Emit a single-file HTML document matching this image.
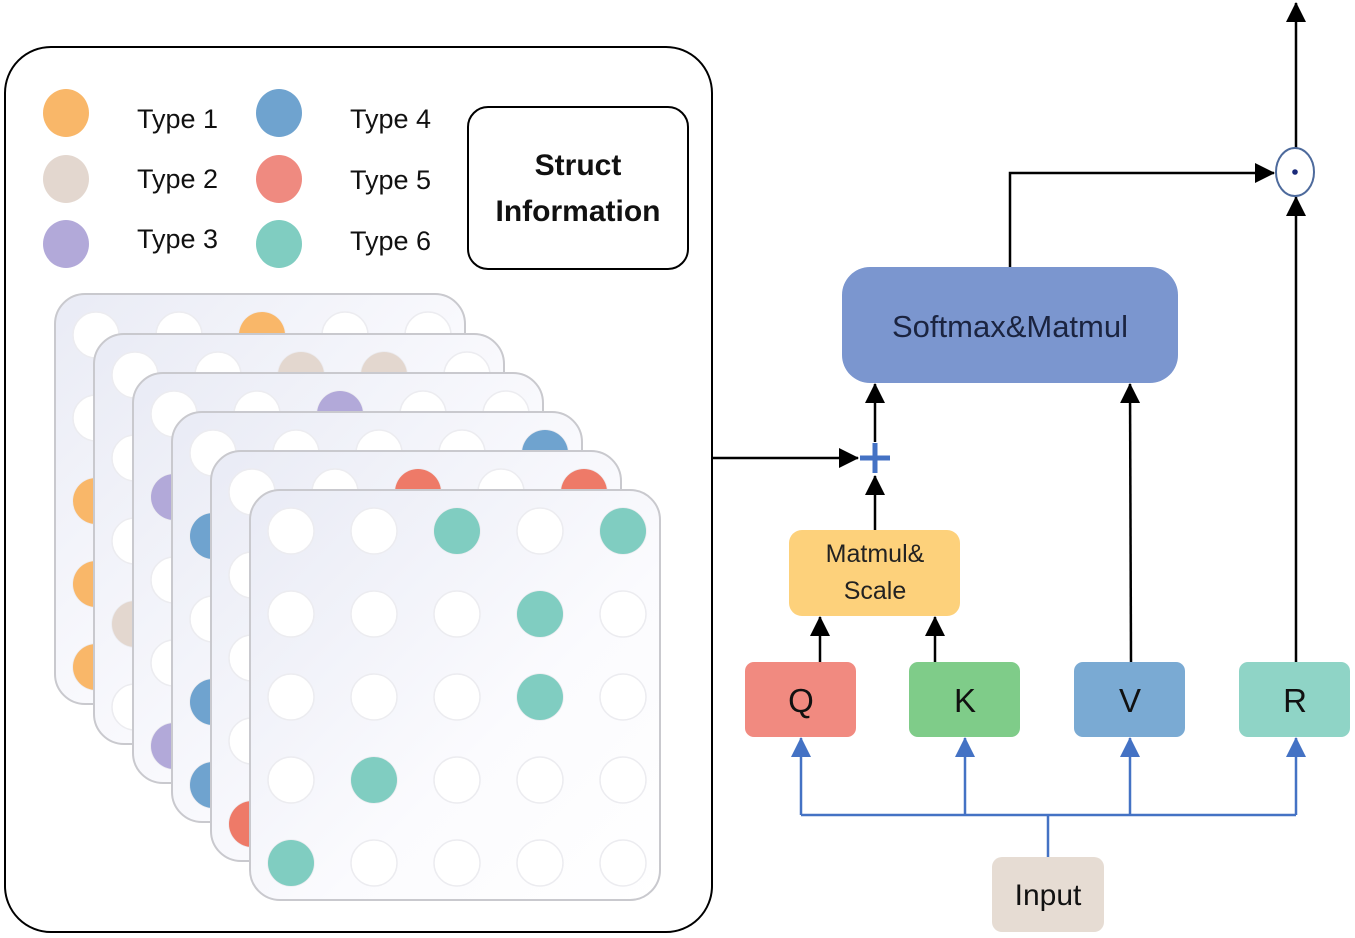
<!DOCTYPE html>
<html><head><meta charset="utf-8">
<style>
html,body{margin:0;padding:0;background:#fff;}
svg{display:block;}
text{font-family:"Liberation Sans",sans-serif;}
</style></head>
<body>
<svg width="1355" height="938" viewBox="0 0 1355 938" xmlns="http://www.w3.org/2000/svg">
<defs>
  <linearGradient id="pg" x1="0" y1="0" x2="1" y2="1">
    <stop offset="0" stop-color="#e9ebf5"/>
    <stop offset="0.6" stop-color="#fbfbfe"/>
    <stop offset="1" stop-color="#ffffff"/>
  </linearGradient>
  <marker id="ak" viewBox="0 0 20 20" markerWidth="20" markerHeight="20" refX="19" refY="10" orient="auto" markerUnits="userSpaceOnUse">
    <path d="M0,0 L20,10 L0,20 z" fill="#000"/>
  </marker>
  <marker id="au" viewBox="0 0 20 20" markerWidth="20" markerHeight="20" refX="19" refY="10" orient="auto" markerUnits="userSpaceOnUse">
    <path d="M0,0 L20,10 L0,20 z" fill="#4472c4"/>
  </marker>
  <g id="grid" fill="#fff" stroke="#ececf0" stroke-width="1.5">
    <circle cx="41" cy="41" r="23"/><circle cx="124" cy="41" r="23"/><circle cx="207" cy="41" r="23"/><circle cx="290" cy="41" r="23"/><circle cx="373" cy="41" r="23"/>
    <circle cx="41" cy="124" r="23"/><circle cx="124" cy="124" r="23"/><circle cx="207" cy="124" r="23"/><circle cx="290" cy="124" r="23"/><circle cx="373" cy="124" r="23"/>
    <circle cx="41" cy="207" r="23"/><circle cx="124" cy="207" r="23"/><circle cx="207" cy="207" r="23"/><circle cx="290" cy="207" r="23"/><circle cx="373" cy="207" r="23"/>
    <circle cx="41" cy="290" r="23"/><circle cx="124" cy="290" r="23"/><circle cx="207" cy="290" r="23"/><circle cx="290" cy="290" r="23"/><circle cx="373" cy="290" r="23"/>
    <circle cx="41" cy="373" r="23"/><circle cx="124" cy="373" r="23"/><circle cx="207" cy="373" r="23"/><circle cx="290" cy="373" r="23"/><circle cx="373" cy="373" r="23"/>
  </g>
  <rect id="pr" x="0" y="0" width="410" height="410" rx="30" fill="url(#pg)" stroke="#c9c9ce" stroke-width="2"/>
</defs>

<rect x="5" y="47" width="707" height="885" rx="46" fill="#fff" stroke="#000" stroke-width="2"/>

<ellipse cx="66" cy="113" rx="23" ry="24" fill="#f9b769"/>
<ellipse cx="66" cy="179" rx="23" ry="24" fill="#e3d7cf"/>
<ellipse cx="66" cy="244" rx="23" ry="24" fill="#b2a9d9"/>
<ellipse cx="279" cy="113" rx="23" ry="24" fill="#6fa3cf"/>
<ellipse cx="279" cy="179" rx="23" ry="24" fill="#ef8a80"/>
<ellipse cx="279" cy="244" rx="23" ry="24" fill="#80cdc1"/>
<g font-size="27" fill="#111">
<text x="137" y="128">Type 1</text>
<text x="137" y="188">Type 2</text>
<text x="137" y="248">Type 3</text>
<text x="350" y="128">Type 4</text>
<text x="350" y="189">Type 5</text>
<text x="350" y="250">Type 6</text>
</g>
<rect x="468" y="107" width="220" height="162" rx="20" fill="#fff" stroke="#000" stroke-width="2"/>
<g font-size="30" font-weight="bold" fill="#111" text-anchor="middle">
<text x="578" y="175">Struct</text>
<text x="578" y="221">Information</text>
</g>

<g transform="translate(55,294)"><use href="#pr"/><use href="#grid"/>
  <g fill="#f9b769"><circle cx="207" cy="41" r="23"/><circle cx="41" cy="207" r="23"/><circle cx="41" cy="290" r="23"/><circle cx="41" cy="373" r="23"/></g></g>
<g transform="translate(94,334)"><use href="#pr"/><use href="#grid"/>
  <g fill="#e3d7cf"><circle cx="207" cy="41" r="23"/><circle cx="290" cy="41" r="23"/><circle cx="41" cy="290" r="23"/></g></g>
<g transform="translate(133,373)"><use href="#pr"/><use href="#grid"/>
  <g fill="#b2a9d9"><circle cx="207" cy="41" r="23"/><circle cx="41" cy="124" r="23"/><circle cx="41" cy="373" r="23"/></g></g>
<g transform="translate(172,412)"><use href="#pr"/><use href="#grid"/>
  <g fill="#6fa3cf"><circle cx="373" cy="41" r="23"/><circle cx="41" cy="124" r="23"/><circle cx="41" cy="290" r="23"/><circle cx="41" cy="373" r="23"/></g></g>
<g transform="translate(211,451)"><use href="#pr"/><use href="#grid"/>
  <g fill="#ee7a68"><circle cx="207" cy="41" r="23"/><circle cx="373" cy="41" r="23"/><circle cx="41" cy="373" r="23"/></g></g>
<g transform="translate(250,490)"><use href="#pr"/><use href="#grid"/>
  <g fill="#80cdc1"><circle cx="207" cy="41" r="23"/><circle cx="373" cy="41" r="23"/><circle cx="290" cy="124" r="23"/><circle cx="290" cy="207" r="23"/><circle cx="124" cy="290" r="23"/><circle cx="41" cy="373" r="23"/></g></g>

<g stroke="#000" stroke-width="2.5" fill="none">
  <line x1="712" y1="458" x2="858" y2="458" marker-end="url(#ak)"/>
  <line x1="875" y1="530" x2="875" y2="476" marker-end="url(#ak)"/>
  <line x1="875" y1="442" x2="875" y2="384" marker-end="url(#ak)"/>
  <line x1="820" y1="662" x2="820" y2="617" marker-end="url(#ak)"/>
  <line x1="935" y1="662" x2="935" y2="617" marker-end="url(#ak)"/>
  <line x1="1131" y1="662" x2="1130" y2="384" marker-end="url(#ak)"/>
  <polyline points="1010,267 1010,173 1274,173" marker-end="url(#ak)"/>
  <line x1="1296" y1="662" x2="1296" y2="197" marker-end="url(#ak)"/>
  <line x1="1296" y1="148" x2="1296" y2="3" marker-end="url(#ak)"/>
</g>
<ellipse cx="1295" cy="172" rx="19" ry="24" fill="#fff" stroke="#4d6a9c" stroke-width="2"/>
<circle cx="1295" cy="172" r="2.8" fill="#1a2a7a"/>
<g stroke="#4472c4" stroke-width="5"><line x1="860" y1="458" x2="890" y2="458"/><line x1="875" y1="443" x2="875" y2="473"/></g>

<rect x="842" y="267" width="336" height="116" rx="28" fill="#7b96cf"/>
<text x="1010" y="337" font-size="31" fill="#1b2440" text-anchor="middle">Softmax&amp;Matmul</text>
<rect x="789" y="530" width="171" height="86" rx="13" fill="#fdd17b"/>
<g font-size="25" fill="#222" text-anchor="middle"><text x="875" y="562">Matmul&amp;</text><text x="875" y="599">Scale</text></g>
<rect x="745" y="662" width="111" height="75" rx="9" fill="#f18a80"/>
<rect x="909" y="662" width="111" height="75" rx="9" fill="#7fcc89"/>
<rect x="1074" y="662" width="111" height="75" rx="9" fill="#7aaad3"/>
<rect x="1239" y="662" width="111" height="75" rx="9" fill="#8fd4c6"/>
<g font-size="33" fill="#111" text-anchor="middle">
<text x="801" y="712">Q</text><text x="965" y="712">K</text><text x="1130" y="712">V</text><text x="1295" y="712">R</text>
</g>
<rect x="992" y="857" width="112" height="75" rx="10" fill="#e6dcd3"/>
<text x="1048" y="905" font-size="30" fill="#111" text-anchor="middle">Input</text>

<g stroke="#4472c4" stroke-width="2.5" fill="none">
  <polyline points="801,815 1296,815"/>
  <line x1="1048" y1="857" x2="1048" y2="815"/>
  <line x1="801" y1="815" x2="801" y2="738" marker-end="url(#au)"/>
  <line x1="965" y1="815" x2="965" y2="738" marker-end="url(#au)"/>
  <line x1="1130" y1="815" x2="1130" y2="738" marker-end="url(#au)"/>
  <line x1="1296" y1="815" x2="1296" y2="738" marker-end="url(#au)"/>
</g>
</svg>
</body></html>
